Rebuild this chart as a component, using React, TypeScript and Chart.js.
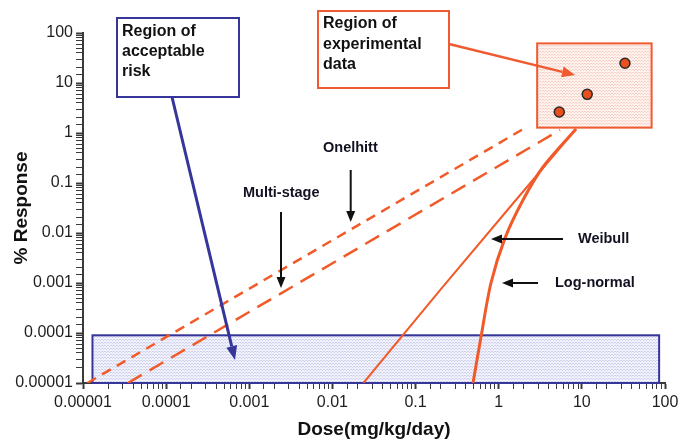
import React, { useEffect, useRef } from 'react';
import { Chart, registerables } from 'chart.js';

Chart.register(...registerables);

// ---- Data ----
const xTickLabels = ['0.00001', '0.0001', '0.001', '0.01', '0.1', '1', '10', '100'];
const yTickLabels = ['0.00001', '0.0001', '0.001', '0.01', '0.1', '1', '10', '100'];

const oneHitDose = [1.13e-5, 2.07];
const oneHitResp = [1e-5, 1.26];

const multiStageDose = [3.47e-5, 5.46];
const multiStageResp = [1e-5, 1.15];

const weibullDose = [0.0236, 0.197, 1.61, 8.5];
const weibullResp = [1e-5, 7.2e-4, 0.0457, 1.2];

const logNormalDose = [0.491, 0.612, 0.807, 1.19, 1.96, 3.41, 8.5];
const logNormalResp = [1e-5, 8.3e-5, 1e-3, 7.9e-3, 0.0457, 0.209, 1.2];

const expDose = [5.35, 11.6, 33];
const expResp = [2.63, 5.94, 24.8];

// regions (data coordinates)
const acceptRegionDose = [1.3e-5, 85];
const acceptRegionResp = [1e-5, 9e-5];
const expRegionDose = [2.9, 69];
const expRegionResp = [1.28, 62];

const FONT = '"Liberation Sans", Arial, sans-serif';
const ORANGE = '#f15a29';
const BLUE = '#35359a';

function zip(xs: number[], ys: number[]) {
  return xs.map((x, i) => ({ x, y: ys[i] }));
}

function makePattern(base: string, dot: string) {
  const c = document.createElement('canvas');
  c.width = 3;
  c.height = 3;
  const g = c.getContext('2d')!;
  g.fillStyle = base;
  g.fillRect(0, 0, 3, 3);
  g.fillStyle = dot;
  g.fillRect(0, 0, 1, 1);
  g.fillRect(2, 0, 1, 1);
  g.fillRect(1, 1, 1, 1);
  const p = g.createPattern(c, 'repeat');
  return p || base;
}

function arrow(ctx: CanvasRenderingContext2D, x1: number, y1: number, x2: number, y2: number,
  color: string, width: number, headLen: number, headW: number) {
  const ang = Math.atan2(y2 - y1, x2 - x1);
  const bx = x2 - Math.cos(ang) * headLen;
  const by = y2 - Math.sin(ang) * headLen;
  ctx.save();
  ctx.strokeStyle = color;
  ctx.fillStyle = color;
  ctx.lineWidth = width;
  ctx.beginPath();
  ctx.moveTo(x1, y1);
  ctx.lineTo(bx, by);
  ctx.stroke();
  ctx.beginPath();
  ctx.moveTo(x2, y2);
  ctx.lineTo(bx + Math.sin(ang) * headW / 2, by - Math.cos(ang) * headW / 2);
  ctx.lineTo(bx - Math.sin(ang) * headW / 2, by + Math.cos(ang) * headW / 2);
  ctx.closePath();
  ctx.fill();
  ctx.restore();
}

const regionPlugin = {
  id: 'regions',
  beforeDatasetsDraw(chart: any) {
    const { ctx, scales } = chart;
    const xs = scales.x, ys = scales.y;
    const drawRegion = (dx: number[], dy: number[], fill: any, stroke: string) => {
      const x1 = xs.getPixelForValue(dx[0]);
      const x2 = xs.getPixelForValue(dx[1]);
      const y1 = ys.getPixelForValue(dy[1]);
      const y2 = ys.getPixelForValue(dy[0]);
      ctx.save();
      ctx.fillStyle = fill;
      ctx.fillRect(x1, y1, x2 - x1, y2 - y1);
      ctx.strokeStyle = stroke;
      ctx.lineWidth = 2;
      ctx.strokeRect(x1, y1, x2 - x1, y2 - y1);
      ctx.restore();
    };
    drawRegion(acceptRegionDose, acceptRegionResp, makePattern('#f0f1fb', '#d0d3ee'), BLUE);
    drawRegion(expRegionDose, expRegionResp, makePattern('#fef2ee', '#f8d2c6'), '#f05a30');
  },
  afterDraw(chart: any) {
    const { ctx } = chart;
    // annotation boxes
    const boxes = [
      { x1: 117, y1: 18, x2: 239, y2: 97, color: BLUE, lines: ['Region of', 'acceptable', 'risk'], tx: 122, ty: 32, dy: 20 },
      { x1: 318, y1: 11, x2: 449, y2: 88, color: '#f05a30', lines: ['Region of', 'experimental', 'data'], tx: 323, ty: 24, dy: 20.5 },
    ];
    boxes.forEach((b) => {
      ctx.save();
      ctx.fillStyle = '#ffffff';
      ctx.fillRect(b.x1, b.y1, b.x2 - b.x1, b.y2 - b.y1);
      ctx.strokeStyle = b.color;
      ctx.lineWidth = 2;
      ctx.strokeRect(b.x1, b.y1, b.x2 - b.x1, b.y2 - b.y1);
      ctx.fillStyle = '#111111';
      ctx.font = `bold 16px ${FONT}`;
      ctx.textBaseline = 'middle';
      ctx.textAlign = 'left';
      b.lines.forEach((l, i) => ctx.fillText(l, b.tx, b.ty + i * b.dy));
      ctx.restore();
    });
    arrow(ctx, 172, 97, 235, 360, BLUE, 3, 14, 11);
    arrow(ctx, 449, 44, 575, 75, '#f05a30', 2.5, 13, 11);

    // curve labels
    ctx.save();
    ctx.fillStyle = '#111122';
    ctx.font = `bold 14.5px ${FONT}`;
    ctx.textBaseline = 'middle';
    ctx.textAlign = 'left';
    ctx.fillText('Onelhitt', 323, 148);
    ctx.fillText('Multi-stage', 243, 193);
    ctx.fillText('Weibull', 578, 239);
    ctx.fillText('Log-normal', 555, 283);
    ctx.restore();
    arrow(ctx, 350.7, 170, 350.7, 222, '#111111', 2, 11, 9);
    arrow(ctx, 281, 212, 281, 288, '#111111', 2, 11, 9);
    arrow(ctx, 563, 239, 491, 239, '#111111', 2, 11, 9);
    arrow(ctx, 538, 283, 502, 283, '#111111', 2, 11, 9);
  },
};

function labelFor(labels: string[]) {
  return (value: any) => {
    const v = Number(value);
    const e = Math.log10(v);
    const r = Math.round(e);
    if (Math.abs(e - r) < 1e-6) {
      const idx = r + 5;
      return labels[idx] ?? '';
    }
    return '';
  };
}

const isMajor = (ctx: any) => {
  const v = ctx.tick ? ctx.tick.value : 1;
  const e = Math.log10(v);
  return Math.abs(e - Math.round(e)) < 1e-6;
};

export default function App() {
  const ref = useRef<HTMLCanvasElement>(null);
  useEffect(() => {
    document.body.style.margin = '0';
    const canvas = ref.current!;
    const chart = new Chart(canvas, {
      type: 'scatter',
      data: {
        datasets: [
          {
            label: 'Experimental data',
            data: zip(expDose, expResp),
            showLine: false,
            pointRadius: 5,
            pointBackgroundColor: '#e8501e',
            pointBorderColor: '#2a2a2a',
            pointBorderWidth: 1.5,
          },
          {
            label: 'One-hit',
            data: zip(oneHitDose, oneHitResp),
            showLine: true,
            borderColor: ORANGE,
            borderWidth: 2.5,
            borderDash: [10, 7],
            pointRadius: 0,
          },
          {
            label: 'Multi-stage',
            data: zip(multiStageDose, multiStageResp),
            showLine: true,
            borderColor: ORANGE,
            borderWidth: 2.5,
            borderDash: [16, 9],
            pointRadius: 0,
          },
          {
            label: 'Weibull',
            data: zip(weibullDose, weibullResp),
            showLine: true,
            borderColor: ORANGE,
            borderWidth: 2,
            pointRadius: 0,
          },
          {
            label: 'Log-normal',
            data: zip(logNormalDose, logNormalResp),
            showLine: true,
            borderColor: ORANGE,
            borderWidth: 3,
            tension: 0.3,
            pointRadius: 0,
          },
        ],
      },
      options: {
        animation: false,
        responsive: false,
        devicePixelRatio: 1,
        layout: { padding: { top: 33, right: 21, left: 0, bottom: 0 } },
        plugins: { legend: { display: false }, tooltip: { enabled: false } },
        scales: {
          x: {
            type: 'logarithmic',
            min: 1e-5,
            max: 100,
            afterFit: (s: any) => { s.height = 58; },
            border: { display: true, color: '#3a3a3a', width: 2 },
            grid: {
              drawOnChartArea: false,
              drawTicks: true,
              tickLength: 6,
              tickColor: '#3a3a3a',
              tickWidth: (c: any) => (isMajor(c) ? 2 : 1),
            },
            ticks: {
              autoSkip: false,
              maxRotation: 0,
              minRotation: 0,
              padding: 4,
              color: '#1e1e1e',
              font: { family: FONT, size: 16 },
              callback: labelFor(xTickLabels),
            },
            title: {
              display: true,
              text: 'Dose(mg/kg/day)',
              color: '#111111',
              font: { family: FONT, size: 19, weight: 'bold' },
              padding: { top: 0, bottom: 0 },
            },
          },
          y: {
            type: 'logarithmic',
            min: 1e-5,
            max: 100,
            afterFit: (s: any) => { s.width = 83; },
            border: { display: true, color: '#3a3a3a', width: 2 },
            grid: {
              drawOnChartArea: false,
              drawTicks: true,
              tickLength: 7,
              tickColor: '#3a3a3a',
              tickWidth: (c: any) => (isMajor(c) ? 2 : 1),
            },
            ticks: {
              autoSkip: false,
              padding: 3,
              color: '#1e1e1e',
              font: { family: FONT, size: 16 },
              callback: labelFor(yTickLabels),
            },
            title: {
              display: true,
              text: '% Response',
              color: '#111111',
              font: { family: FONT, size: 19, weight: 'bold' },
              padding: { top: 10, bottom: 0 },
            },
          },
        },
      } as any,
      plugins: [regionPlugin],
    });
    return () => chart.destroy();
  }, []);
  return (
    <div style={{ width: 686, height: 441 }}>
      <canvas ref={ref} width={686} height={441} style={{ display: 'block' }} />
    </div>
  );
}
